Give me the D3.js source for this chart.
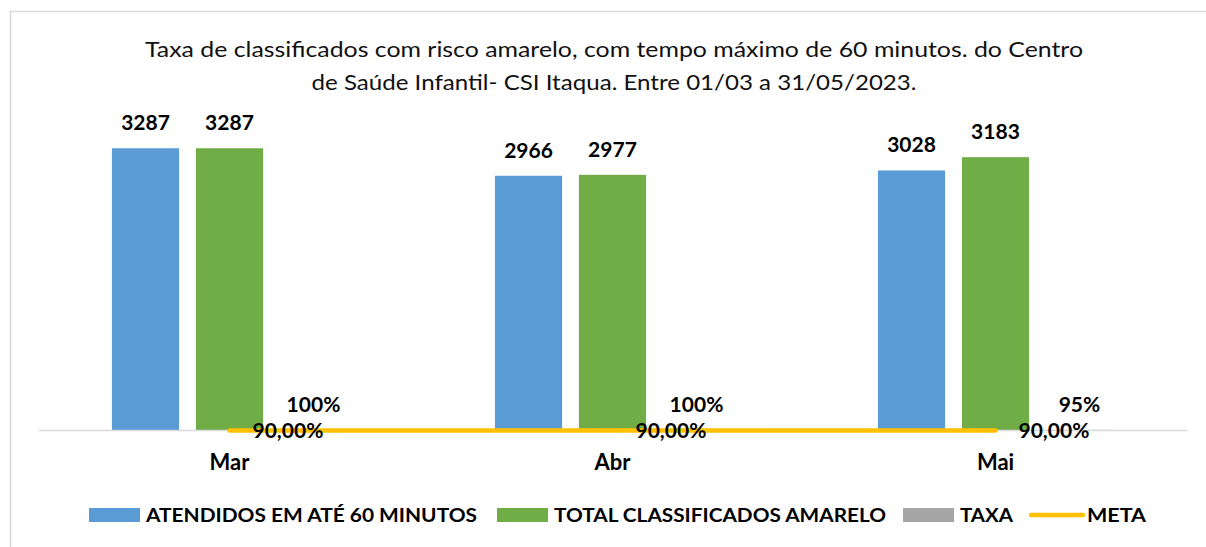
<!DOCTYPE html>
<html>
<head>
<meta charset="utf-8">
<script src="https://cdn.jsdelivr.net/npm/d3@7"></script>
<style>
  body { margin:0; background:#fff; }
  svg { display:block; font-family: Lato, "Open Sans", sans-serif; }
</style>
</head>
<body>
<svg width="1206" height="547"></svg>
<script>
// dados
const months = ['Mar', 'Abr', 'Mai']
const atendidos = [3287, 2966, 3028]
const totalAmarelo = [3287, 2977, 3183]
const taxa = [1.00, 1.00, 0.95]
const meta = [0.90, 0.90, 0.90]
const titleLines = [
  'Taxa de classificados com risco amarelo, com tempo máximo de 60 minutos. do Centro',
  'de Saúde Infantil- CSI Itaqua. Entre 01/03 a 31/05/2023.'
]
const seriesNames = ['ATENDIDOS EM ATÉ 60 MINUTOS', 'TOTAL CLASSIFICADOS AMARELO', 'TAXA', 'META']

const svg = d3.select('svg')
const width = +svg.attr('width')
const height = +svg.attr('height')

const colors = ['#5B9BD5', '#70AD47', '#A5A5A5', '#FFC000']

// borda do gráfico
svg.append('path')
  .attr('d', `M10.5,${height} V11.5 H${width}`)
  .attr('fill', 'none')
  .attr('stroke', '#d9d9d9')
  .attr('stroke-width', 1.5)

// titulo
const titleW = [938, 605]
titleLines.forEach((t, i) => {
  svg.append('text')
    .attr('x', 614)
    .attr('y', 57 + i * 33)
    .attr('text-anchor', 'middle')
    .attr('font-size', '22px')
    .attr('fill', '#111')
    .attr('textLength', titleW[i])
    .attr('lengthAdjust', 'spacingAndGlyphs')
    .text(t)
})

// escalas
const xScale = d3.scaleBand()
  .domain(months)
  .range([38, 1187])
  .paddingInner(0.386)
  .paddingOuter(0.193)

const xInner = d3.scaleBand()
  .domain([0, 1, 2])
  .range([0, xScale.bandwidth()])
  .paddingInner(0.2)

const yScale = d3.scaleLinear()
  .domain([0, 3500])
  .range([430, 130])

const data = months.map((m, i) => ({
  month: m,
  vals: [atendidos[i], totalAmarelo[i], taxa[i]]
}))

// barras
const groups = svg.selectAll('g.grp').data(data)
  .enter().append('g')
  .attr('class', 'grp')
  .attr('transform', d => `translate(${xScale(d.month)},0)`)

groups.selectAll('rect').data(d => d.vals)
  .enter().append('rect')
  .attr('x', (d, i) => xInner(i))
  .attr('y', d => yScale(d))
  .attr('width', xInner.bandwidth())
  .attr('height', d => yScale(0) - yScale(d))
  .attr('fill', (d, i) => colors[i])

// rótulos das barras
const pct = d3.format('.0%')
groups.selectAll('text.val').data(d => d.vals)
  .enter().append('text')
  .attr('class', 'val')
  .attr('x', (d, i) => xInner(i) + xInner.bandwidth() / 2)
  .attr('y', d => yScale(d) - 18)
  .attr('text-anchor', 'middle')
  .attr('font-size', '21px')
  .attr('font-weight', 'bold')
  .attr('fill', '#000')
  .text((d, i) => i === 2 ? pct(d) : d)

// eixo x
const xAxis = d3.axisBottom(xScale).tickSize(0).tickPadding(24)
const xAxisG = svg.append('g')
  .attr('transform', `translate(0,${yScale(0)})`)
  .call(xAxis)
xAxisG.select('.domain').attr('stroke', '#d9d9d9').attr('stroke-width', 1.5)
xAxisG.selectAll('.tick text')
  .attr('font-size', '22px')
  .attr('font-weight', 'bold')
  .attr('font-family', 'Lato, sans-serif')
  .attr('fill', '#000')

// linha meta
const metaX = (d, i) => xScale(months[i]) + xScale.bandwidth() / 2
const line = d3.line()
  .x(metaX)
  .y(d => yScale(d) + 0.5)
svg.append('path')
  .datum(meta)
  .attr('d', line)
  .attr('fill', 'none')
  .attr('stroke', colors[3])
  .attr('stroke-width', 4.5)
  .attr('stroke-linecap', 'round')

const metaFmt = d => d3.format('.2%')(d).replace('.', ',')
svg.selectAll('text.meta').data(meta)
  .enter().append('text')
  .attr('class', 'meta')
  .attr('x', (d, i) => metaX(d, i) + 23)
  .attr('y', d => yScale(d) + 8)
  .attr('font-size', '21px')
  .attr('font-weight', 'bold')
  .attr('fill', '#000')
  .text(metaFmt)

// legenda
const legendX = [89, 497, 903, 1029]
const legendTextW = [331, 332, 53, 59]
seriesNames.forEach((name, i) => {
  const lx = legendX[i]
  if (i < 3) {
    svg.append('rect')
      .attr('x', lx).attr('y', 508)
      .attr('width', 51).attr('height', 14)
      .attr('fill', colors[i])
  } else {
    svg.append('line')
      .attr('x1', lx + 2).attr('x2', lx + 54)
      .attr('y1', 515).attr('y2', 515)
      .attr('stroke', colors[i])
      .attr('stroke-width', 4.5)
      .attr('stroke-linecap', 'round')
  }
  svg.append('text')
    .attr('x', i < 3 ? lx + 57 : lx + 58)
    .attr('y', 522)
    .attr('font-size', '19px')
    .attr('font-weight', 'bold')
    .attr('fill', '#000')
    .attr('textLength', legendTextW[i])
    .attr('lengthAdjust', 'spacingAndGlyphs')
    .text(name)
})
</script>
</body>
</html>
